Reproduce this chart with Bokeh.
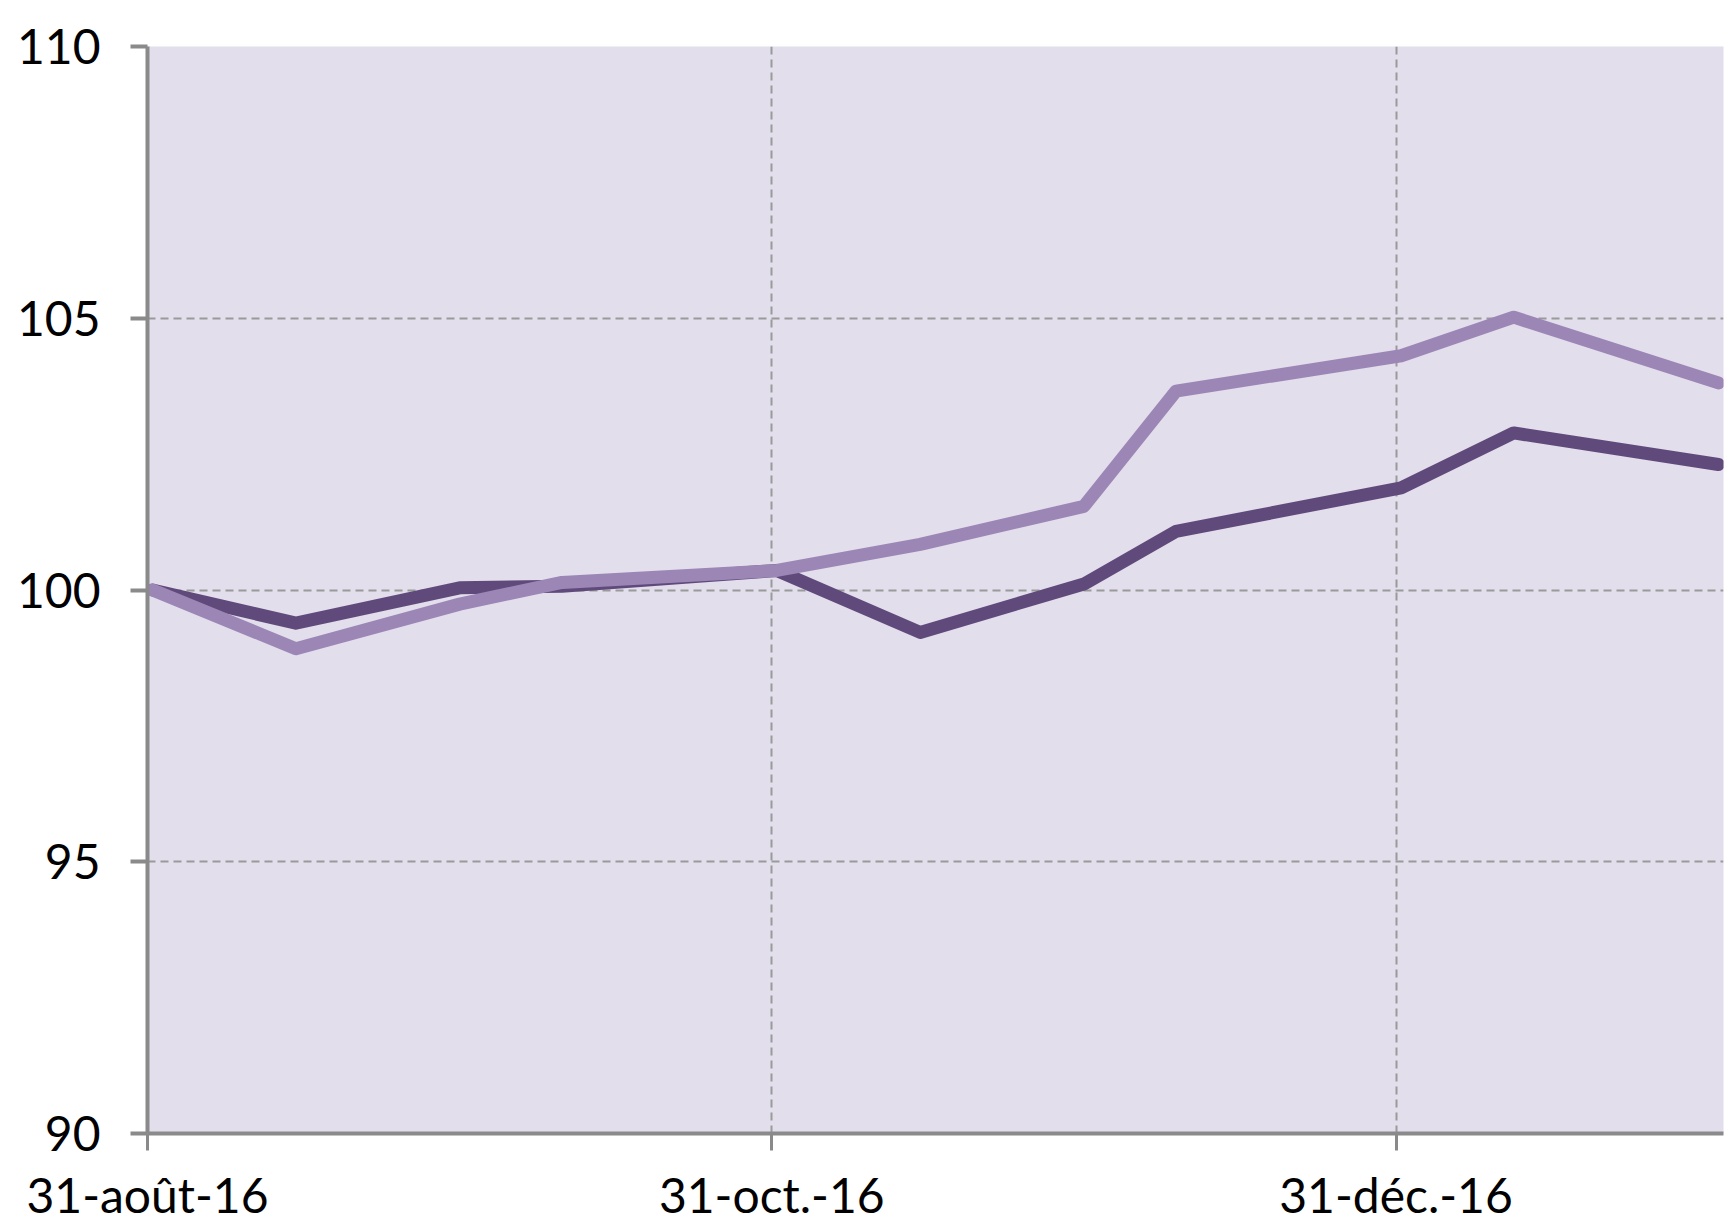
from datetime import datetime
import pandas as pd
from bokeh.plotting import figure
from bokeh.models import Range1d, FixedTicker
from bokeh.embed import file_html
from bokeh.resources import INLINE

# ---- data ----
dates = ["2016-08-31", "2016-09-14", "2016-09-30", "2016-10-10", "2016-10-31",
         "2016-11-14", "2016-11-30", "2016-12-09", "2016-12-31", "2017-01-11",
         "2017-01-31"]
series_dark = [100.0, 99.39, 100.04, 100.07, 100.36, 99.22, 100.11, 101.08,
               101.88, 102.89, 102.31]
series_light = [100.0, 98.92, 99.74, 100.14, 100.36, 100.84, 101.54, 103.66,
                104.31, 105.02, 103.81]
tick_dates = ["2016-08-31", "2016-10-31", "2016-12-31"]
tick_labels = ["31-août-16", "31-oct.-16", "31-déc.-16"]
y_ticks = [90, 95, 100, 105, 110]

# points sit in the middle of their day slot (date axis of the original)
x = pd.to_datetime(dates) + pd.Timedelta(hours=12)
tick_ms = [int(pd.Timestamp(d).value // 10**6) for d in tick_dates]

FONT = "Lato"
GRID = "#9a9a9a"
AXIS = "#8a8a8a"

p = figure(width=1724, height=1227, x_axis_type="datetime",
           x_range=Range1d(datetime(2016, 8, 31), datetime(2017, 2, 1)),
           y_range=Range1d(90, 110),
           output_backend="svg", toolbar_location=None,
           min_border_left=147, min_border_right=1,
           min_border_top=46, min_border_bottom=94,
           background_fill_color="#E2DEEC", border_fill_color="white",
           outline_line_color=None)

p.line(x, series_dark, line_width=13, line_color="#604A7B",
       line_cap="round", line_join="round")
p.line(x, series_light, line_width=13, line_color="#9B86B6",
       line_cap="round", line_join="round")

# axes
p.xaxis.ticker = FixedTicker(ticks=tick_ms)
p.xaxis.major_label_overrides = {t: l for t, l in zip(tick_ms, tick_labels)}
p.yaxis.ticker = FixedTicker(ticks=y_ticks)

for ax in (p.xaxis, p.yaxis):
    ax.axis_line_color = AXIS
    ax.axis_line_width = 4
    ax.major_tick_line_color = AXIS
    ax.major_tick_line_width = 4
    ax.major_tick_out = 17
    ax.major_tick_in = 0
    ax.minor_tick_line_color = None
    ax.major_label_text_font = FONT
    ax.major_label_text_font_size = "48px"
    ax.major_label_text_color = "black"
p.xaxis.major_tick_line_width = 3
p.yaxis.major_label_standoff = 30
p.xaxis.major_label_standoff = 15

# grids
p.xgrid.ticker = FixedTicker(ticks=tick_ms[1:])
p.ygrid.ticker = FixedTicker(ticks=y_ticks[1:])
for g in (p.xgrid, p.ygrid):
    g.grid_line_color = GRID
    g.grid_line_width = 2
    g.grid_line_dash = "8 5"

open("out.html", "w").write(file_html(p, INLINE))
